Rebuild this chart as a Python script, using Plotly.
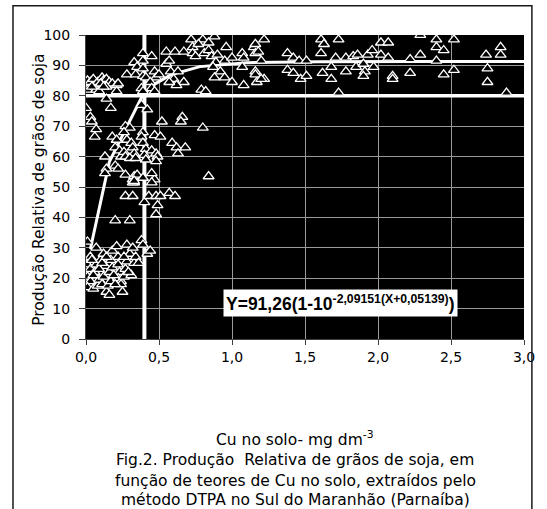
import plotly.graph_objects as go

# Extractable Cu (DTPA) in soil, mg dm-3, and relative soybean grain yield, %
cu_soil = [
    # high-yield group at low Cu
    0.01, 0.03, 0.05, 0.08, 0.11, 0.12, 0.14, 0.16, 0.18, 0.21, 0.22, 0.01, 0.07, 0.09,
    0.14, 0.21, 0.14, 0.17, 0.04, 0.10, 0.12,
    0.00, 0.03, 0.04, 0.07, 0.06,
    # intermediate yields
    0.13, 0.14, 0.13, 0.18, 0.21, 0.20, 0.23, 0.24, 0.20, 0.22, 0.27, 0.30, 0.26, 0.28,
    0.31, 0.32, 0.33, 0.26, 0.27, 0.30, 0.34, 0.27, 0.32, 0.33, 0.35, 0.33, 0.39, 0.38,
    0.39, 0.41, 0.40, 0.41, 0.39, 0.47, 0.45, 0.48, 0.49, 0.48, 0.52, 0.51, 0.59, 0.62,
    0.63, 0.68, 0.66, 0.65, 0.80, 0.84, 0.47, 0.45,
    # rising to the plateau
    0.28, 0.33, 0.35, 0.34, 0.39, 0.39, 0.39, 0.39, 0.41, 0.38, 0.39, 0.45, 0.47, 0.48,
    0.44, 0.45, 0.47, 0.50, 0.38, 0.42,
    # plateau
    0.55, 0.55, 0.61, 0.57, 0.58, 0.60, 0.63, 0.67, 0.62, 0.57, 0.67, 0.72, 0.73, 0.73,
    0.80, 0.84, 0.81, 0.88, 0.84, 0.86, 0.90, 0.89, 0.87, 0.92, 0.88, 0.95, 0.95, 1.00,
    1.00, 1.07, 1.08, 1.07, 1.08, 1.15, 1.16, 1.18, 1.22, 1.16, 1.17, 1.22, 1.20, 0.79,
    0.82, 0.75, 0.77, 0.96, 1.16, 1.16, 1.20,
    1.38, 1.42, 1.46, 1.51, 1.38, 1.42, 1.47, 1.51, 1.61, 1.63, 1.73, 1.61, 1.71, 1.68,
    1.78, 1.62, 1.68, 1.78, 1.73, 1.83, 1.86, 1.85, 1.90, 1.91, 1.90, 1.93, 1.96, 1.97,
    2.02, 2.07, 2.02, 2.07, 2.10, 2.10, 2.22, 2.22, 2.29, 2.29, 2.40, 2.40, 2.45, 2.40,
    2.45, 2.52, 2.52, 2.74, 2.84, 2.84, 2.75, 2.75, 2.88,
    # low-yield group
    0.01, 0.07, 0.03, 0.01, 0.03, 0.01, 0.03, 0.01, 0.05, 0.08, 0.09, 0.06, 0.07, 0.10,
    0.12, 0.13, 0.12, 0.11, 0.14, 0.16, 0.15, 0.17, 0.16, 0.18, 0.17, 0.18, 0.21, 0.22,
    0.22, 0.23, 0.22, 0.24, 0.24, 0.25, 0.26, 0.27, 0.28, 0.30, 0.28, 0.32, 0.31, 0.33,
    0.34, 0.36, 0.38, 0.39, 0.42, 0.44, 0.04, 0.05, 0.09, 0.11, 0.14, 0.19, 0.20, 0.26,
    0.29,
    0.20, 0.30, 0.27, 0.32, 0.32, 0.33, 0.40, 0.43, 0.48, 0.51, 0.49, 0.48, 0.57, 0.61,
    0.45,
]

relative_yield = [
    85.0, 84.5, 85.5, 84.5, 86.0, 85.0, 85.5, 84.5, 84.0, 83.5, 84.0, 82.0, 82.0, 81.5,
    83.0, 81.5, 79.0, 76.0, 83.0, 84.0, 83.0,
    76.0, 73.0, 71.5, 69.0, 66.5,
    60.0, 56.0, 54.5, 66.5, 65.5, 63.0, 62.0, 60.0, 57.0, 56.0, 70.0, 69.5, 68.0, 65.5,
    64.5, 63.0, 61.0, 61.5, 60.0, 59.5, 59.5, 54.0, 52.5, 53.5, 54.0, 51.5, 68.0, 66.5,
    64.5, 62.5, 60.5, 59.0, 53.0, 67.0, 62.0, 61.0, 60.0, 58.5, 71.5, 66.5, 64.5, 63.0,
    61.0, 63.0, 73.0, 71.5, 69.5, 53.5, 52.5, 54.5,
    87.0, 91.0, 89.5, 87.0, 94.0, 91.5, 89.0, 86.5, 86.0, 82.5, 81.5, 93.0, 88.0, 86.0,
    84.5, 82.5, 81.5, 87.0, 77.0, 75.5,
    90.5, 94.5, 94.5, 91.5, 88.0, 85.5, 88.0, 84.5, 83.5, 84.5, 94.5, 98.5, 96.0, 94.0,
    98.5, 97.5, 94.0, 99.5, 95.0, 93.0, 93.5, 91.0, 89.5, 88.0, 86.0, 91.5, 86.0, 92.5,
    84.5, 94.0, 92.5, 89.5, 83.5, 96.0, 94.0, 94.5, 98.5, 88.0, 84.5, 85.5, 91.5, 82.0,
    81.5, 93.0, 97.0, 96.0, 97.0, 87.0, 85.5,
    94.0, 92.5, 91.5, 91.5, 88.5, 87.5, 85.5, 86.5, 98.5, 97.0, 98.5, 94.0, 92.5, 89.5,
    92.5, 87.5, 85.5, 88.0, 81.0, 93.0, 93.5, 89.5, 90.5, 88.0, 86.5, 93.5, 95.0, 89.5,
    97.5, 97.5, 93.5, 92.5, 86.5, 85.5, 92.0, 87.5, 100.0, 93.5, 98.5, 96.0, 95.0, 91.5,
    87.0, 98.5, 88.5, 93.5, 96.0, 93.5, 89.0, 84.5, 81.0,
    32.0, 30.0, 27.0, 24.5, 23.0, 20.5, 19.0, 17.0, 16.5, 17.5, 19.5, 22.0, 24.5, 26.0,
    28.0, 24.0, 20.5, 18.0, 15.5, 14.5, 17.5, 19.0, 22.0, 23.5, 26.0, 29.0, 30.5, 27.0,
    24.5, 22.0, 20.0, 19.0, 18.0, 15.5, 20.5, 23.0, 25.5, 28.0, 31.0, 30.0, 21.0, 25.0,
    27.0, 25.0, 32.5, 31.0, 28.0, 29.0, 26.0, 21.0, 23.0, 25.0, 27.0, 21.0, 18.0, 27.0,
    22.0,
    39.0, 39.0, 47.0, 47.0, 51.5, 52.0, 45.0, 47.0, 47.0, 47.0, 44.0, 41.0, 48.0, 47.0,
    51.5,
]

# Mitscherlich model: Y = A (1 - 10^(-c (X + b)))
mit_a = 91.26
mit_c = 2.09151
mit_b = 0.05139
curve_cu = [0.03, 0.16, 0.39, 0.47, 0.58, 0.78, 1.1, 1.6, 2.2, 3.0]
curve_yield = [mit_a * (1 - 10 ** (-mit_c * (x + mit_b))) for x in curve_cu]

# critical level lines
critical_cu = 0.4
critical_yield = 80

x_tick_vals = [0.0, 0.5, 1.0, 1.5, 2.0, 2.5, 3.0]
x_tick_text = ["0,0", "0,5", "1,0", "1,5", "2,0", "2,5", "3,0"]
y_tick_vals = [0, 10, 20, 30, 40, 50, 60, 70, 80, 90, 100]

caption_lines = [
    "Cu no solo- mg dm<sup>-3</sup>",
    "Fig.2. Produção\u00a0 Relativa de grãos de soja, em",
    "função de teores de Cu no solo, extraídos pelo",
    "método DTPA no Sul do Maranhão (Parnaíba)",
]

TICK_FONT = dict(family="DejaVu Sans", size=14, color="black")

fig = go.Figure()
fig.add_trace(go.Scatter(x=[critical_cu, critical_cu], y=[0, 100], mode="lines",
                         line=dict(color="white", width=4), hoverinfo="skip"))
fig.add_trace(go.Scatter(x=[0, 3], y=[critical_yield, critical_yield], mode="lines",
                         line=dict(color="white", width=3.5), hoverinfo="skip"))
fig.add_trace(go.Scatter(x=curve_cu, y=curve_yield, mode="lines",
                         line=dict(color="white", width=3), hoverinfo="skip"))
fig.add_trace(go.Scatter(x=cu_soil, y=relative_yield, mode="markers",
                         marker=dict(symbol="triangle-up", size=9.5, color="black",
                                     line=dict(color="white", width=1.3))))

fig.update_layout(
    width=547, height=509,
    margin=dict(l=86, r=17, t=35, b=170),
    paper_bgcolor="white", plot_bgcolor="black",
    showlegend=False,
    xaxis=dict(range=[0, 3], tickvals=x_tick_vals, ticktext=x_tick_text,
               showgrid=True, gridcolor="#9a9a9a", gridwidth=1, zeroline=False,
               ticks="outside", ticklen=5, tickcolor="#404040",
               showline=True, linecolor="#404040", linewidth=1,
               tickfont=TICK_FONT),
    yaxis=dict(range=[0, 100], tickvals=y_tick_vals,
               showgrid=True, gridcolor="#9a9a9a", gridwidth=1, zeroline=False,
               ticks="outside", ticklen=6, tickcolor="#404040",
               showline=True, linecolor="#404040", linewidth=1,
               ticklabelstandoff=6, tickfont=TICK_FONT),
)

# outer frame
fig.add_shape(type="rect", xref="paper", yref="paper",
              x0=-0.1667, x1=1.018, y0=-0.62, y1=1.096,
              line=dict(color="#1a1a1a", width=1.5), fillcolor="rgba(0,0,0,0)")

# y axis title
fig.add_annotation(xref="paper", yref="paper", x=-0.108, y=0.49,
                   text="Produção Relativa de grãos de soja", textangle=-90,
                   showarrow=False, xanchor="center", yanchor="middle",
                   font=dict(family="DejaVu Sans", size=15.5, color="black"))

# fitted equation
fig.add_annotation(xref="x", yref="y", x=1.74, y=11.8,
                   text="<b>Y=91,26(1-10<sup>-2,09151(X+0,05139)</sup>)</b>",
                   showarrow=False, bgcolor="white", borderpad=2,
                   font=dict(family="Liberation Sans, Arial", size=17.5, color="black"))

# axis label and figure caption
caption_y = [-0.326, -0.397, -0.466, -0.531]
for line, yy in zip(caption_lines, caption_y):
    fig.add_annotation(xref="paper", yref="paper", x=0.4775, y=yy, text=line,
                       showarrow=False, xanchor="center", yanchor="middle",
                       font=dict(family="DejaVu Sans", size=15.5, color="black"))

fig.write_html("out.html")
